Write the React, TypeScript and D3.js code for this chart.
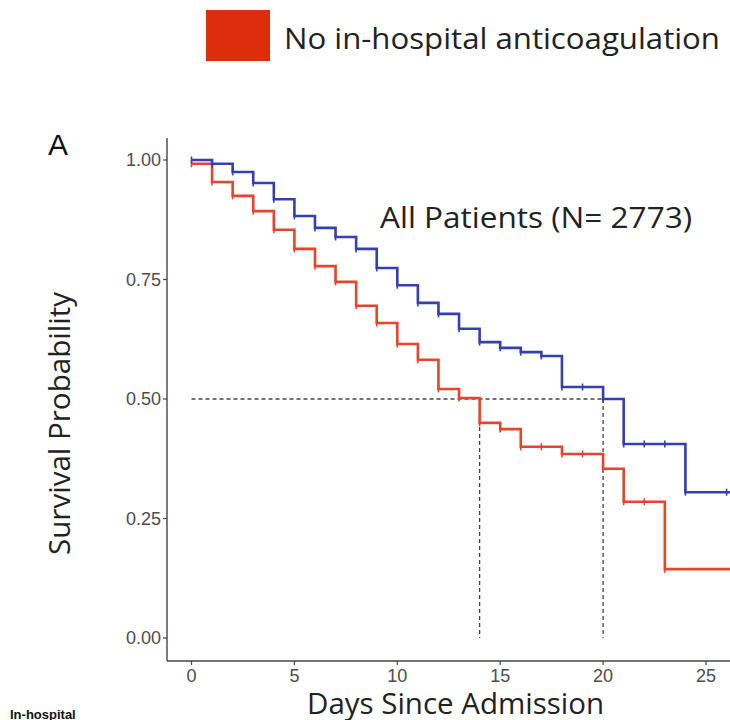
import React from "react";
import * as d3 from "d3";

const days = [0,1,2,3,4,5,6,7,8,9,10,11,12,13,14,15,16,17,18,19,20,21,22,23,24,25,26];
const survAnticoag = [1.0,0.992,0.975,0.952,0.918,0.883,0.858,0.839,0.814,0.774,0.738,0.701,0.678,0.647,0.619,0.607,0.598,0.59,0.525,0.525,0.5,0.406,0.406,0.406,0.305,0.305,0.305];
const survNoAnticoag = [0.992,0.954,0.925,0.893,0.854,0.814,0.778,0.745,0.695,0.659,0.615,0.582,0.521,0.502,0.45,0.437,0.4,0.4,0.385,0.385,0.354,0.285,0.285,0.144,0.144,0.144,0.144];
const censorAnticoag = [0,1,2,3,4,5,6,7,8,9,10,11,12,13,14,15,16,17,18,19,20,21,22,23,24,26];
const censorNoAnticoag = [0,1,2,3,4,5,6,7,8,9,10,11,12,13,14,15,16,17,18,19,20,21,22,23];
const medians = [14, 20];
const xTicks = [0,5,10,15,20,25];
const yTicks = [0,0.25,0.5,0.75,1.0];
const legendLabel = "No in-hospital anticoagulation";
const panelTitle = "All Patients (N= 2773)";

export default function App() {
  const W = 730, H = 720;
  const x = d3.scaleLinear().domain([0, 25]).range([191.5, 706]);
  const y = d3.scaleLinear().domain([0, 1]).range([638, 160]);
  const axisX0 = 167, axisY0 = 661;
  const tEnd = 26.8;

  const stepLine = d3.line<[number, number]>()
    .x(d => x(d[0])).y(d => y(d[1])).curve(d3.curveStepAfter);

  const mk = (vals: number[]) => {
    const pts: [number, number][] = days.map((t, i) => [t, vals[i]]);
    pts.push([tEnd, vals[vals.length - 1]]);
    return stepLine(pts) || "";
  };
  const valAt = (vals: number[], t: number) => vals[days.indexOf(t)];

  const blue = "#3340b0";
  const red = "#e8432b";
  const tickCol = "#4d4d4d";
  const sans = "'Liberation Sans', Arial, sans-serif";
  const body = "'Open Sans', 'Noto Sans', sans-serif";

  return (
    <div style={{ position: "absolute", left: 0, top: 0 }}>
      <svg width={W} height={H} style={{ display: "block", background: "#fff" }}>
        {/* legend */}
        <rect x={206} y={10} width={64} height={51} fill="#dd2c0c" />
        <text x={284} y={49} fontFamily={body} fontSize={30} fill="#222" textLength={436} lengthAdjust="spacingAndGlyphs">{legendLabel}</text>

        <text x={48} y={155} fontFamily={sans} fontSize={30} fill="#111">A</text>

        {/* axes */}
        <line x1={axisX0} x2={axisX0} y1={138} y2={axisY0} stroke="#444" strokeWidth={1.4} />
        <line x1={axisX0} x2={W} y1={axisY0} y2={axisY0} stroke="#444" strokeWidth={1.4} />
        {yTicks.map(v => (
          <g key={"y" + v}>
            <line x1={axisX0 - 4} x2={axisX0} y1={y(v)} y2={y(v)} stroke="#444" strokeWidth={1.2} />
            <text x={axisX0 - 6} y={y(v)} dy="0.36em" textAnchor="end" fontFamily={sans} fontSize={18} fill={tickCol}>{v.toFixed(2)}</text>
          </g>
        ))}
        {xTicks.map(v => (
          <g key={"x" + v}>
            <line x1={x(v)} x2={x(v)} y1={axisY0} y2={axisY0 + 4} stroke="#444" strokeWidth={1.2} />
            <text x={x(v)} y={682} textAnchor="middle" fontFamily={sans} fontSize={18} fill={tickCol}>{v}</text>
          </g>
        ))}

        {/* median reference lines */}
        <line x1={x(0)} x2={x(medians[1])} y1={y(0.5)} y2={y(0.5)} stroke="#444" strokeWidth={1.3} strokeDasharray="4,3" />
        {medians.map(m => (
          <line key={"m" + m} x1={x(m)} x2={x(m)} y1={y(0.5)} y2={y(0)} stroke="#444" strokeWidth={1.3} strokeDasharray="4,3" />
        ))}

        {/* curves */}
        <path d={mk(survNoAnticoag)} fill="none" stroke={red} strokeWidth={2.6} />
        <path d={mk(survAnticoag)} fill="none" stroke={blue} strokeWidth={2.6} />
        {censorNoAnticoag.map(t => (
          <line key={"cr" + t} x1={x(t)} x2={x(t)} y1={y(valAt(survNoAnticoag, t)) - 3.5} y2={y(valAt(survNoAnticoag, t)) + 3.5} stroke={red} strokeWidth={1.6} />
        ))}
        {censorAnticoag.map(t => (
          <line key={"cb" + t} x1={x(t)} x2={x(t)} y1={y(valAt(survAnticoag, t)) - 3.5} y2={y(valAt(survAnticoag, t)) + 3.5} stroke={blue} strokeWidth={1.6} />
        ))}

        <text x={380} y={228} fontFamily={body} fontSize={29} fill="#222" textLength={312} lengthAdjust="spacingAndGlyphs">{panelTitle}</text>

        <text transform={`translate(70,${(292 + 555) / 2}) rotate(-90)`} textAnchor="middle" fontFamily={body} fontSize={29} fill="#222" textLength={263} lengthAdjust="spacingAndGlyphs">Survival Probability</text>
        <text x={307} y={714} fontFamily={body} fontSize={29} fill="#222" textLength={297} lengthAdjust="spacingAndGlyphs">Days Since Admission</text>

        <text x={10} y={719} fontFamily={sans} fontSize={13} fontWeight="bold" fill="#111">In-hospital</text>
      </svg>
    </div>
  );
}
